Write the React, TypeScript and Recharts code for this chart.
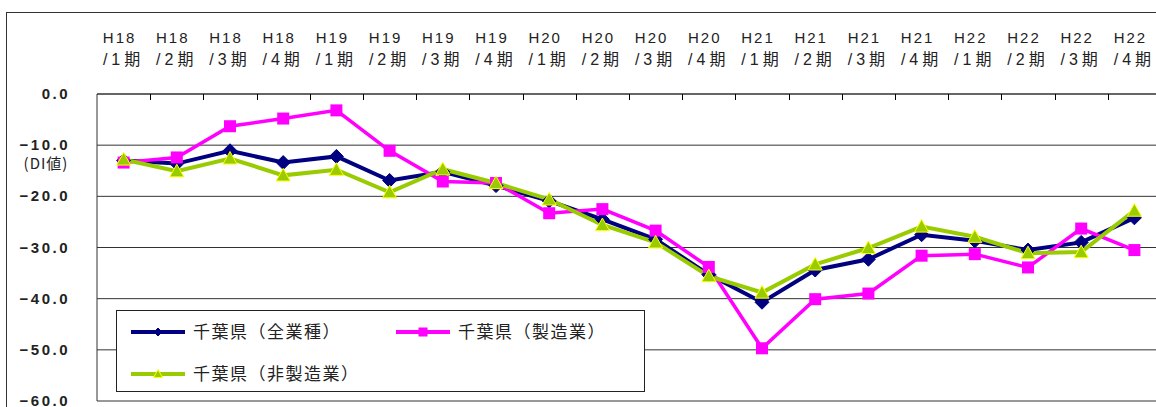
import { CartesianGrid, Legend, Line, LineChart, XAxis, YAxis } from 'recharts';

const years = ['H18', 'H18', 'H18', 'H18', 'H19', 'H19', 'H19', 'H19', 'H20', 'H20', 'H20', 'H20', 'H21', 'H21', 'H21', 'H21', 'H22', 'H22', 'H22', 'H22'];
const quarters = ['/1期', '/2期', '/3期', '/4期', '/1期', '/2期', '/3期', '/4期', '/1期', '/2期', '/3期', '/4期', '/1期', '/2期', '/3期', '/4期', '/1期', '/2期', '/3期', '/4期'];

const allIndustries = [-13.0, -13.6, -11.1, -13.4, -12.2, -16.9, -15.2, -17.9, -20.9, -24.5, -28.4, -35.3, -40.7, -34.4, -32.3, -27.5, -28.7, -30.5, -29.0, -24.2];
const manufacturing = [-13.4, -12.4, -6.3, -4.8, -3.2, -11.1, -17.1, -17.4, -23.3, -22.5, -26.7, -33.8, -49.7, -40.1, -39.0, -31.6, -31.3, -33.9, -26.3, -30.5];
const nonManufacturing = [-12.8, -15.1, -12.6, -15.9, -14.8, -19.2, -14.7, -17.4, -20.6, -25.6, -29.0, -35.6, -38.8, -33.3, -30.1, -25.9, -27.9, -31.1, -30.9, -22.8];

const seriesNames = ['千葉県（全業種）', '千葉県（製造業）', '千葉県（非製造業）'];
const yTicks = [0, -10, -20, -30, -40, -50, -60];

const NAVY = '#000080';
const MAGENTA = '#ff00ff';
const LIME = '#99cc00';

const data = years.map((y, i) => ({
    period: `${y}${quarters[i]}`,
    all: allIndustries[i],
    mfg: manufacturing[i],
    nonMfg: nonManufacturing[i],
}));

function diamond(cx: number, cy: number, r: number, color: string) {
    return <path d={`M${cx} ${cy - r}L${cx + r} ${cy}L${cx} ${cy + r}L${cx - r} ${cy}Z`} fill={color} stroke={color} strokeWidth={1} />;
}
function square(cx: number, cy: number, r: number, color: string) {
    return <rect x={cx - r} y={cy - r} width={r * 2} height={r * 2} fill={color} />;
}
function triangle(cx: number, cy: number, r: number) {
    return <path d={`M${cx} ${cy - r}L${cx + r} ${cy + r * 0.8}L${cx - r} ${cy + r * 0.8}Z`} fill={LIME} stroke="#ffff00" strokeWidth={1} />;
}

const DiamondDot = (p: any) => (p.cx == null ? null : <g key={p.index}>{diamond(p.cx, p.cy, 7, NAVY)}</g>);
const SquareDot = (p: any) => (p.cx == null ? null : <g key={p.index}>{square(p.cx, p.cy, 6, MAGENTA)}</g>);
const TriangleDot = (p: any) => (p.cx == null ? null : <g key={p.index}>{triangle(p.cx, p.cy, 7)}</g>);

// label of a period + a short inward tick mark on the left boundary of its band
const PeriodTick = (p: any) => {
    const i: number = p.payload.index;
    const half: number = p.payload.offset ?? 0;
    const axisY = Number(p.y) + 8; // tickSize 6 + tickMargin 2
    const bx = Math.round(Number(p.x) - half) + 0.5;
    return (
        <g>
            {i > 0 && <path d={`M${bx} ${axisY}V${axisY + 6}`} stroke="#000" strokeWidth={1} fill="none" />}
            <text x={p.x - 4} y={43} textAnchor="middle" fontSize={15} letterSpacing={2} fill="#222" fontFamily="'Liberation Sans', 'Noto Sans CJK JP'">
                {years[i]}
            </text>
            <text x={p.x} y={65} textAnchor="middle" fontSize={16} letterSpacing={4} fill="#222" fontFamily="'Liberation Sans', 'Noto Sans CJK JP'">
                {quarters[i]}
            </text>
        </g>
    );
};

const ValueTick = (p: any) => {
    const v = p.payload.value;
    const label = (v === 0 ? '' : '−') + Math.abs(v).toFixed(1);
    return (
        <g fill="#222">
            <text x={p.x} y={p.y} dy={5} textAnchor="end" fontSize={15} fontWeight="bold" letterSpacing={2.5} fontFamily="'Liberation Sans'">
                {label}
            </text>
            {v === -10 && (
                <text x={p.x - 24} y={p.y} dy={24} textAnchor="middle" fontSize={15} letterSpacing={1} fontFamily="'Noto Sans CJK JP'">
                    (DI値)
                </text>
            )}
        </g>
    );
};

const legendSpots = [
    { x: 14, y: 21 },
    { x: 279, y: 21 },
    { x: 14, y: 63 },
];

const LegendBox = (props: any) => {
    const items = props.payload || [];
    return (
        <svg width={527} height={80}>
            {items.map((it: any, i: number) => {
                const s = legendSpots[i];
                const mid = s.x + 27;
                return (
                    <g key={it.value}>
                        <line x1={s.x} y1={s.y} x2={s.x + 54} y2={s.y} stroke={it.color} strokeWidth={4} />
                        {i === 0 && diamond(mid, s.y, 4, NAVY)}
                        {i === 1 && square(mid, s.y, 4.5, MAGENTA)}
                        {i === 2 && triangle(mid, s.y, 4.5)}
                        <text x={s.x + 62} y={s.y} dy={6} fontSize={17} letterSpacing={1.5} fill="#222" fontFamily="'Noto Sans CJK JP'">
                            {it.value}
                        </text>
                    </g>
                );
            })}
        </svg>
    );
};

export default function App() {
    return (
        <div style={{ position: 'absolute', left: 0, top: 0, width: 1156, height: 407, overflow: 'hidden', background: '#fff' }}>
            <div style={{ position: 'absolute', left: 6, top: 12, width: 1200, height: 450, border: '1px solid #333' }} />
            <div style={{ position: 'absolute', left: 0, top: 0 }}>
                <LineChart width={1170} height={420} data={data} margin={{ top: 0, right: 9, bottom: 19, left: 0 }}>
                    <CartesianGrid xAxisId="cat" vertical={false} stroke="#333" />
                    <XAxis
                        xAxisId="cat"
                        dataKey="period"
                        scale="band"
                        orientation="top"
                        height={94}
                        interval={0}
                        tickLine={false}
                        axisLine={{ stroke: '#333' }}
                        tick={PeriodTick}
                    />
                    <YAxis
                        domain={[-60, 0]}
                        ticks={yTicks}
                        interval={0}
                        width={97}
                        tickLine={false}
                        tickMargin={21}
                        axisLine={{ stroke: '#333' }}
                        tick={ValueTick}
                    />
                    <Legend
                        layout="vertical"
                        align="center"
                        verticalAlign="middle"
                        content={LegendBox}
                        wrapperStyle={{ position: 'absolute', left: 116, top: 310, width: 527, height: 80, border: '1px solid #222', background: '#fff' }}
                    />
                    <Line xAxisId="cat" name={seriesNames[0]} dataKey="all" stroke={NAVY} strokeWidth={4} dot={DiamondDot} isAnimationActive={false} />
                    <Line xAxisId="cat" name={seriesNames[1]} dataKey="mfg" stroke={MAGENTA} strokeWidth={3.5} dot={SquareDot} isAnimationActive={false} />
                    <Line xAxisId="cat" name={seriesNames[2]} dataKey="nonMfg" stroke={LIME} strokeWidth={4} dot={TriangleDot} isAnimationActive={false} />
                </LineChart>
            </div>
        </div>
    );
}
